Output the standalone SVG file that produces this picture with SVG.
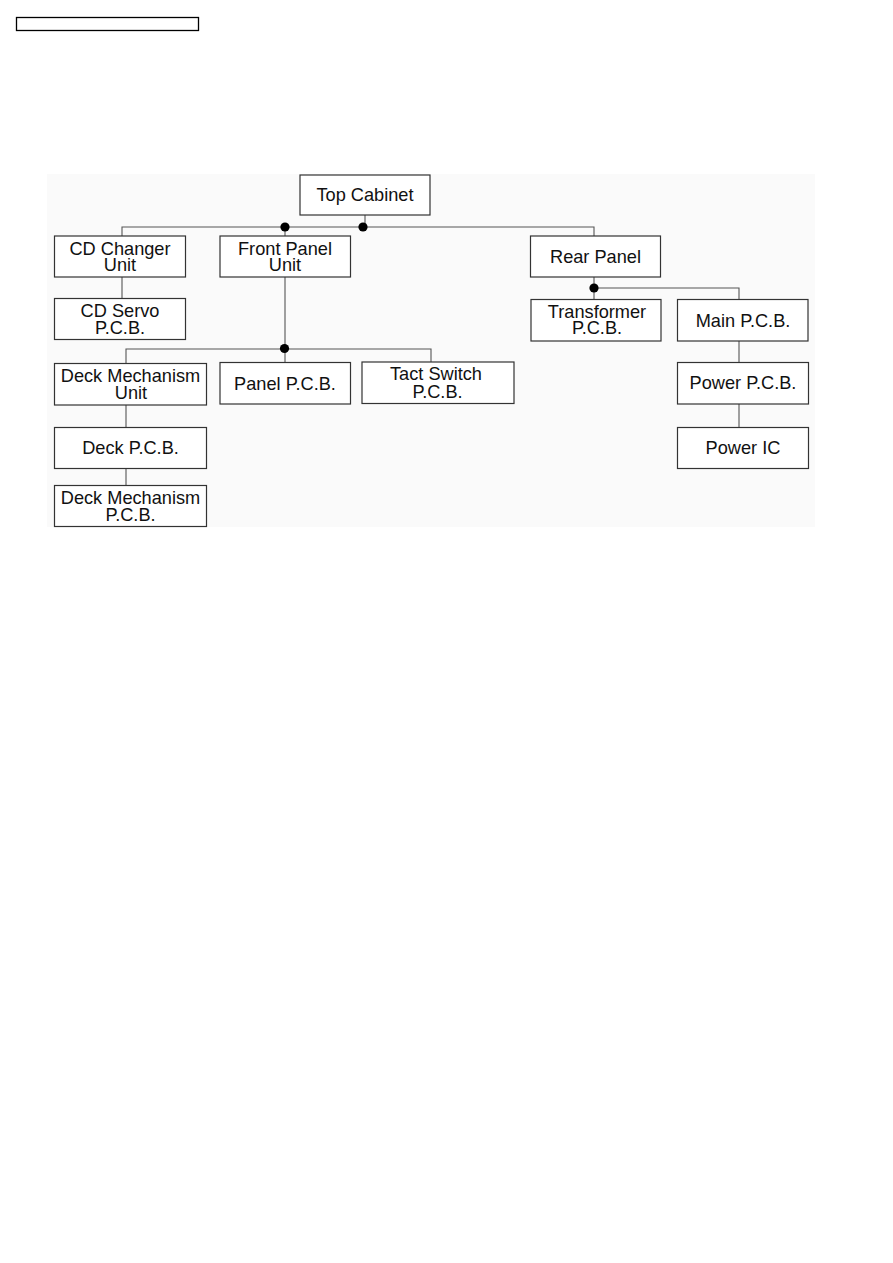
<svg xmlns="http://www.w3.org/2000/svg" width="893" height="1263" viewBox="0 0 893 1263">
<style>
.box{fill:#fff;stroke:#333;stroke-width:1.2}
.hdr{fill:#fff;stroke:#000;stroke-width:1.3}
.ln{fill:none;stroke:#555;stroke-width:1.1}
.dot{fill:#000}
text{font-family:"Liberation Sans",Arial,sans-serif;font-size:18.2px;fill:#111;text-anchor:middle}
</style>
<rect width="893" height="1263" fill="#fff"/>
<rect x="47" y="174" width="768" height="353" fill="#fafafa"/>
<rect class="hdr" x="16.5" y="17.5" width="182" height="13"/>
<g id="connectors">
<path class="ln" d="M365 215V227M122 236V227H594V236M285 227V236M122 277V298M285 277V349M126 363V349H431V362M285 349V362M594 277V299M594 288H739V299M739 341V362M739 404V427M126 405V428M126 468V485"/>
<circle class="dot" cx="285" cy="227" r="4.6"/>
<circle class="dot" cx="363" cy="227" r="4.6"/>
<circle class="dot" cx="594" cy="288" r="4.6"/>
<circle class="dot" cx="284.5" cy="348.5" r="4.6"/>
</g>
<g id="top-cabinet"><rect class="box" x="300" y="175" width="130" height="40"/><text x="365" y="201">Top Cabinet</text></g>
<g id="cd-changer-unit"><rect class="box" x="54.5" y="236" width="131" height="41"/><text x="120" y="255">CD Changer</text><text x="120" y="271">Unit</text></g>
<g id="front-panel-unit"><rect class="box" x="220" y="236" width="130.5" height="41"/><text x="285" y="254.5">Front Panel</text><text x="285" y="271">Unit</text></g>
<g id="cd-servo-pcb"><rect class="box" x="54.5" y="298.5" width="131" height="41"/><text x="120" y="317">CD Servo</text><text x="120" y="333.5">P.C.B.</text></g>
<g id="rear-panel"><rect class="box" x="530.5" y="236" width="130" height="41"/><text x="595.5" y="263">Rear Panel</text></g>
<g id="transformer-pcb"><rect class="box" x="531" y="299.5" width="130" height="41.5"/><text x="597" y="317.5">Transformer</text><text x="597" y="333.5">P.C.B.</text></g>
<g id="main-pcb"><rect class="box" x="677.5" y="299.5" width="130.5" height="41.5"/><text x="743" y="326.5">Main P.C.B.</text></g>
<g id="deck-mechanism-unit"><rect class="box" x="54.5" y="363.5" width="152" height="41.5"/><text x="130.5" y="382">Deck Mechanism</text><text x="131" y="398.5">Unit</text></g>
<g id="panel-pcb"><rect class="box" x="220" y="362.5" width="130.5" height="41.5"/><text x="285" y="389.5">Panel P.C.B.</text></g>
<g id="tact-switch-pcb"><rect class="box" x="362" y="362" width="152" height="41.5"/><text x="436" y="380">Tact Switch</text><text x="437.5" y="397.5">P.C.B.</text></g>
<g id="power-pcb"><rect class="box" x="677.5" y="362.5" width="131" height="41.5"/><text x="743" y="389">Power P.C.B.</text></g>
<g id="deck-pcb"><rect class="box" x="54.5" y="427.5" width="152" height="41"/><text x="130.5" y="453.5">Deck P.C.B.</text></g>
<g id="power-ic"><rect class="box" x="677.5" y="427.5" width="131" height="41"/><text x="743" y="453.5">Power IC</text></g>
<g id="deck-mechanism-pcb"><rect class="box" x="54.5" y="485.5" width="152" height="41"/><text x="130.5" y="504">Deck Mechanism</text><text x="130.5" y="520.5">P.C.B.</text></g>
</svg>
